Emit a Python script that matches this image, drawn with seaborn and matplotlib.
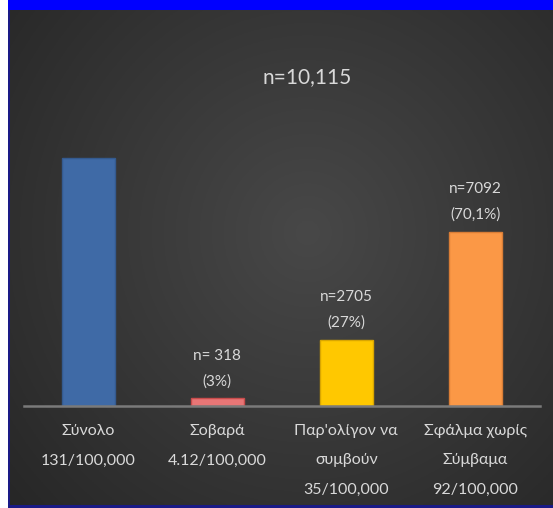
import numpy as np
import pandas as pd
import matplotlib
matplotlib.use("Agg")
import matplotlib.pyplot as plt
from matplotlib.patches import Rectangle
import seaborn as sns

# Incident rates per 100,000 and their counts
categories = ["Σύνολο\n131/100,000",
              "Σοβαρά\n4.12/100,000",
              "Παρ'ολίγον να\nσυμβούν\n35/100,000",
              "Σφάλμα χωρίς\nΣύμβαμα\n92/100,000"]
rates = [131, 4.12, 35, 92]
count_labels = ["", "n= 318", "n=2705", "n=7092"]
share_labels = ["", "(3%)", "(27%)", "(70,1%)"]
total_label = "n=10,115"

bar_colors = ["#3f6aa6", "#e87676", "#ffc800", "#fb9846"]
edge_colors = ["#345a8f", "#c84c4c", "#d9a600", "#d97d36"]
text_color = "#d9d9d9"

sns.set_theme(style="white")
plt.rcParams["font.family"] = ["Lato", "DejaVu Sans"]

W, H = 553, 508
fig = plt.figure(figsize=(W / 100, H / 100), dpi=100)
fig.patch.set_facecolor("white")

# dark panel with a soft radial gradient
bg = fig.add_axes([8 / W, 3 / H, 545 / W, 495 / H])
ny, nx = 300, 330
yy, xx = np.mgrid[0:1:ny * 1j, 0:1:nx * 1j]
r = np.sqrt(((xx - 0.55) / 0.75) ** 2 + ((yy - 0.45) / 0.85) ** 2)
r = np.clip(r, 0, 1)
inner, outer = np.array([0x48, 0x48, 0x48]) / 255, np.array([0x26, 0x26, 0x26]) / 255
img = inner[None, None, :] * (1 - r[..., None]) + outer[None, None, :] * r[..., None]
bg.imshow(img, extent=[0, 1, 0, 1], aspect="auto", origin="upper")
bg.set_axis_off()

# frame strips: blue band on top, navy edges left and bottom
fig.add_artist(Rectangle((8 / W, 498 / H), 545 / W, 10 / H, transform=fig.transFigure,
                         facecolor="#0000ff", edgecolor="none"))
fig.add_artist(Rectangle((8 / W, 0), 2 / W, 498 / H, transform=fig.transFigure,
                         facecolor="#1a1a86", edgecolor="none"))
fig.add_artist(Rectangle((8 / W, 0), 545 / W, 3 / H, transform=fig.transFigure,
                         facecolor="#1a1a86", edgecolor="none"))

ax = fig.add_axes([23.5 / W, 102 / H, 516.5 / W, (406 - 74.7) / H])
ax.set_facecolor("none")

df = pd.DataFrame({"category": categories, "rate": rates})
sns.barplot(data=df, x="category", y="rate", hue="category", palette=bar_colors,
            width=0.41, saturation=1, legend=False, ax=ax)
for patch, ec in zip(ax.patches, edge_colors):
    patch.set_edgecolor(ec)
    patch.set_linewidth(1.0)

ax.set_ylim(0, 175)
ax.set_xlim(-0.5, 3.5)
ax.set_xlabel("")
ax.set_ylabel("")
ax.set_yticks([])
for s in ["top", "left", "right"]:
    ax.spines[s].set_visible(False)
ax.spines["bottom"].set_color("#7a7a7a")
ax.spines["bottom"].set_linewidth(1.8)
ax.tick_params(axis="x", length=0, pad=13, labelsize=11.5, labelcolor=text_color)
for t in ax.get_xticklabels():
    t.set_linespacing(2.4)

# value labels above bars
for i, (v, c, s) in enumerate(zip(rates, count_labels, share_labels)):
    if not c:
        continue
    ax.annotate(f"{c}\n{s}", xy=(i, v), xytext=(0, 7), textcoords="offset points",
                ha="center", va="bottom", fontsize=11, color=text_color, linespacing=2.0)

fig.text(307 / W, 1 - 77 / H, total_label, ha="center", va="center",
         fontsize=15, color=text_color)

fig.savefig("out.png", dpi=100)
